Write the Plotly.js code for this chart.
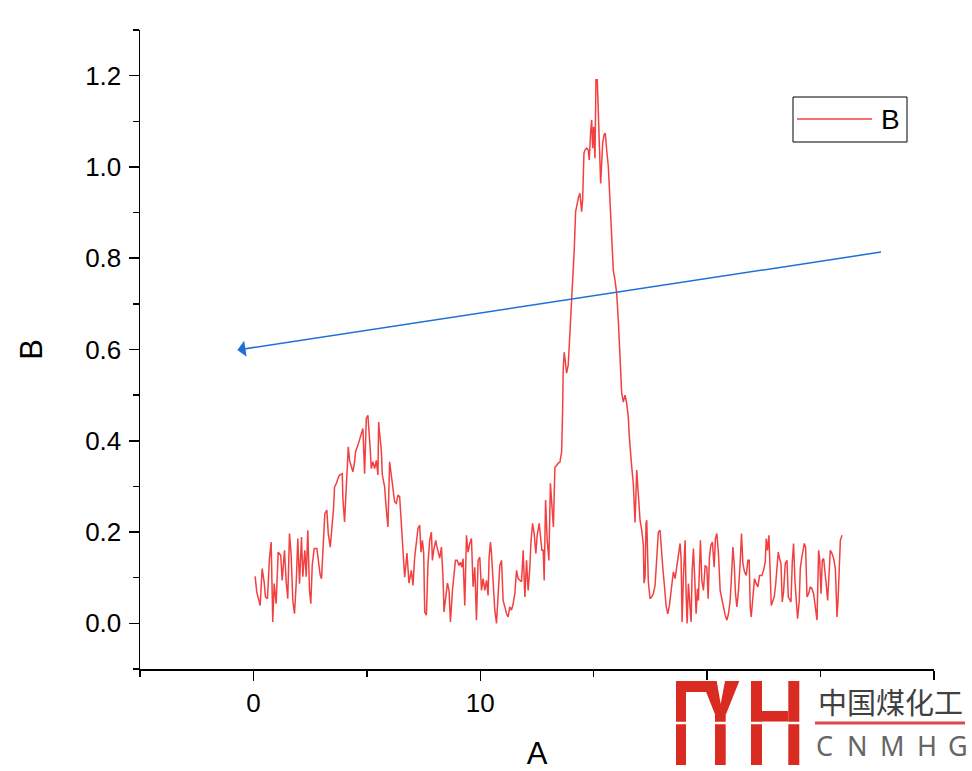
<!DOCTYPE html>
<html>
<head>
<meta charset="utf-8">
<script src="https://cdn.plot.ly/plotly-3.0.1.min.js"></script>
<style>
html,body{margin:0;padding:0;background:#fff;}
#chart{width:972px;height:771px;}
</style>
</head>
<body>
<div id="chart"></div>
<script>
// ---- data ----
const xA = [0.075,0.146,0.296,0.384,0.472,0.530,0.618,0.706,0.781,0.852,0.914,1.002,1.091,1.205,1.267,1.369,1.444,1.514,1.589,1.664,1.735,1.810,1.885,1.956,2.031,2.119,2.177,2.265,2.327,2.397,2.472,2.530,2.592,2.680,2.795,2.883,2.945,3.002,3.060,3.091,3.148,3.236,3.298,3.386,3.475,3.532,
3.576,3.651,3.722,3.797,3.916,3.943,4.018,4.062,4.119,4.181,4.238,4.313,4.384,4.459,4.503,4.605,4.680,4.755,4.826,4.901,4.976,5.046,5.091,5.152,5.196,5.267,5.342,5.417,5.488,5.519,5.563,5.638,5.682,5.784,5.859,5.929,6.004,6.079,6.150,6.225,6.300,6.371,6.446,6.521];
const yA = [0.103,0.069,0.039,0.120,0.091,0.058,0.054,0.142,0.178,0.003,0.087,0.043,0.156,0.149,0.094,0.160,0.091,0.054,0.197,0.149,0.050,0.021,0.087,0.186,0.087,0.189,0.102,0.160,0.102,0.204,0.072,0.043,0.127,0.164,0.164,0.127,0.105,0.098,0.156,0.208,0.241,0.248,0.197,0.167,0.215,0.252,
0.299,0.306,0.317,0.325,0.328,0.273,0.222,0.270,0.325,0.387,0.357,0.343,0.332,0.354,0.376,0.390,0.401,0.416,0.427,0.328,0.449,0.456,0.409,0.379,0.339,0.354,0.339,0.357,0.325,0.441,0.416,0.379,0.325,0.299,0.248,0.211,0.354,0.321,0.288,0.266,0.263,0.281,0.277,0.208];

const xB = [6.592,6.667,6.768,6.857,6.962,7.033,7.108,7.183,7.254,7.329,7.386,7.448,7.506,7.550,7.625,7.695,7.770,7.845,7.889,7.947,8.035,8.093,8.155,8.212,8.287,8.358,8.402,8.477,8.552,8.623,8.684,8.773,8.830,8.905,8.976,9.064,9.126,9.183,9.241,9.316,9.391,9.461,9.536,9.611,9.682,9.757,9.832,9.903,9.978,10.053,10.124,10.199,10.274,10.344,10.389,10.450,10.494,10.565,10.640,10.715,10.786,10.861,10.936,11.007,11.082,11.157,11.227,11.302,11.377,11.448,11.523,11.598,11.669,11.744,11.819,11.890,11.965,12.040,12.110,12.185,12.230,12.305,12.375,12.450,12.508,12.596,12.658,12.715,12.773,12.817,12.878,12.949,13.024,13.091,13.223];
const yB = [0.143,0.101,0.154,0.088,0.116,0.083,0.145,0.182,0.208,0.215,0.156,0.182,0.154,0.025,0.018,0.132,0.182,0.200,0.138,0.160,0.182,0.167,0.154,0.143,0.167,0.099,0.025,0.055,0.088,0.072,0.003,0.072,0.102,0.138,0.138,0.127,0.134,0.123,0.142,0.039,0.193,0.156,0.175,0.186,0.080,0.123,0.007,0.138,0.145,0.072,0.098,0.072,0.094,0.061,0.145,0.178,0.153,0.091,0.029,0.000,0.065,0.127,0.138,0.050,0.036,0.021,0.014,0.036,0.029,0.043,0.065,0.116,0.098,0.094,0.091,0.160,0.058,0.138,0.072,0.123,0.175,0.219,0.197,0.153,0.193,0.219,0.178,0.160,0.160,0.094,0.270,0.182,0.138,0.307,0.211];

const xC = [13.289,13.364,13.435,13.510,13.585,13.629,13.656,13.700,13.762,13.806,13.877,13.951,13.996,14.053,14.097,14.141,14.203,14.274,14.336,14.393,14.468,14.512,14.570,14.614,14.689,14.759,14.804,14.865,14.909,14.954,14.998,15.055,15.099,15.157,15.201,15.245,15.307,15.351,15.395,15.453,15.510,15.572,15.643,15.687,15.731,15.775,15.819,15.863,15.938,16.013,16.084,16.128,16.190,16.234,16.305,16.380,16.455,16.525,16.569,16.631,16.675,16.746,16.821,16.896,16.967,17.042,17.117,17.188,17.219,17.263,17.307,17.338,17.408,17.483,17.558,17.629,17.704,17.748,17.806,17.850,17.925];
const yC = [0.342,0.346,0.351,0.353,0.375,0.467,0.559,0.594,0.561,0.548,0.566,0.632,0.697,0.719,0.763,0.818,0.902,0.924,0.935,0.942,0.902,0.928,1.030,1.037,1.041,1.037,1.015,1.077,1.103,1.041,1.088,1.019,1.191,1.191,1.103,1.055,0.964,1.015,1.052,1.070,1.074,1.037,1.001,0.957,0.913,0.855,0.796,0.774,0.752,0.723,0.664,0.606,0.551,0.504,0.485,0.500,0.482,0.452,0.409,0.361,0.343,0.306,0.221,0.336,0.292,0.226,0.204,0.171,0.088,0.101,0.219,0.226,0.091,0.054,0.058,0.065,0.083,0.127,0.182,0.200,0.204];

const xD = [18.000,18.044,18.115,18.190,18.265,18.336,18.397,18.455,18.512,18.587,18.662,18.733,18.808,18.852,18.896,18.954,19.029,19.073,19.117,19.174,19.249,19.294,19.338,19.395,19.457,19.514,19.572,19.616,19.660,19.704,19.766,19.837,19.912,19.987,20.044,20.102,20.163,20.234,20.309,20.366,20.428,20.499,20.574,20.649,20.720,20.795,20.870,20.940,21.015,21.073,21.135,21.192,21.249,21.311,21.382,21.457,21.514,21.576,21.647,21.722,21.797,21.854,21.898,21.943,22.018,22.088,22.163,22.238,22.309,22.415,22.486,22.561,22.605,22.662,22.724,22.781,22.826,22.901,22.958,23.016,23.077,23.135,23.192,23.254,23.311,23.369,23.444,23.519,23.576,23.634,23.695,23.753,23.810,23.872,23.929,23.987,24.062,24.106,24.163,24.225,24.283,24.340,24.402,24.472,24.547,24.622,24.693,24.768,24.843,24.914,24.958,25.020,25.077,25.135,25.196,25.254,25.311,25.373,25.430,25.505,25.576,25.651,25.726,25.770,25.815,25.872,25.947];
const yD = [0.164,0.123,0.083,0.039,0.021,0.039,0.065,0.087,0.113,0.098,0.127,0.153,0.175,0.142,0.003,0.102,0.182,0.065,0.000,0.087,0.043,0.003,0.113,0.164,0.094,0.021,0.076,0.050,0.120,0.182,0.094,0.072,0.127,0.123,0.054,0.145,0.171,0.178,0.123,0.186,0.197,0.153,0.072,0.050,0.036,0.018,0.007,0.021,0.050,0.102,0.167,0.131,0.065,0.036,0.072,0.134,0.197,0.131,0.113,0.105,0.138,0.138,0.036,0.014,0.058,0.098,0.087,0.080,0.105,0.105,0.116,0.134,0.186,0.160,0.193,0.080,0.039,0.050,0.058,0.083,0.116,0.156,0.142,0.131,0.047,0.069,0.131,0.138,0.058,0.054,0.047,0.134,0.175,0.091,0.036,0.010,0.050,0.120,0.142,0.164,0.175,0.167,0.058,0.065,0.080,0.076,0.065,0.036,0.007,0.160,0.142,0.065,0.138,0.142,0.102,0.083,0.050,0.123,0.160,0.153,0.142,0.120,0.014,0.050,0.120,0.182,0.193];

const seriesName = 'B';
const xTickVals = [0, 10, 20, 30];
const xTickText = ['0', '10', '20', ''];
const yTickVals = [0, 0.2, 0.4, 0.6, 0.8, 1.0, 1.2];
const yTickText = ['0.0', '0.2', '0.4', '0.6', '0.8', '1.0', '1.2'];
const arrowTail = [27.73, 0.814];
const arrowHead = [-0.706, 0.599];

const xs = xA.concat(xB, xC, xD);
const ys = yA.concat(yB, yC, yD);

// ---- geometry helpers (pixel -> paper) ----
const L = 140, R = 38, T = 30, B = 102, W = 972, H = 771;
const PW = W - L - R, PH = H - T - B;
const px = v => (v - L) / PW;
const py = v => (H - B - v) / PH;

const red = 'rgb(242,64,64)';
const logoRed = '#d92b21';

function rectPx(x0, y0, x1, y1, color, extra) {
  return Object.assign({type: 'rect', xref: 'paper', yref: 'paper', layer: 'above',
    x0: px(x0), x1: px(x1), y0: py(y1), y1: py(y0),
    fillcolor: color, line: {width: 0}}, extra || {});
}
function polyPx(pts, color) {
  const d = pts.map((p, i) => (i ? 'L' : 'M') + px(p[0]).toFixed(5) + ',' + py(p[1]).toFixed(5)).join(' ') + ' Z';
  return {type: 'path', xref: 'paper', yref: 'paper', layer: 'above', path: d, fillcolor: color, line: {width: 0}};
}

const shapes = [
  // legend box
  {type: 'rect', xref: 'paper', yref: 'paper', x0: px(793), x1: px(907), y0: py(142), y1: py(97),
   line: {color: '#000', width: 1}, fillcolor: 'rgba(0,0,0,0)', layer: 'above'},
  {type: 'line', xref: 'paper', yref: 'paper', x0: px(797), x1: px(872), y0: py(119), y1: py(119),
   line: {color: red, width: 1.5}, layer: 'above'},
  // logo background
  rectPx(672, 680, 972, 771, '#ffffff'),
  // logo "MH"
  rectPx(676, 681, 710, 692, logoRed),
  rectPx(676, 681, 686, 765, logoRed),
  polyPx([[701.7, 681], [716.7, 681], [720.7, 704], [725, 681], [739.3, 681], [726, 714.3], [715, 714.3]], logoRed),
  rectPx(715, 711.7, 725.7, 765, logoRed),
  rectPx(751, 681, 762, 765, logoRed),
  rectPx(788.3, 681, 799.3, 765, logoRed),
  rectPx(762, 711, 788.3, 721.7, logoRed),
  rectPx(674, 721.7, 802, 724.3, '#ffffff'),
  // logo red underline
  {type: 'line', xref: 'paper', yref: 'paper', layer: 'above', x0: px(815), x1: px(965), y0: py(723), y1: py(723),
   line: {color: '#e04646', width: 3}}
];

const annotations = [
  {x: arrowHead[0], y: arrowHead[1], ax: arrowTail[0], ay: arrowTail[1], xref: 'x', yref: 'y', axref: 'x', ayref: 'y',
   showarrow: true, arrowhead: 1, arrowsize: 1.8, arrowwidth: 1.5, arrowcolor: '#1f70d6', text: ''},
  {x: px(890), y: py(119), xref: 'paper', yref: 'paper', text: seriesName, showarrow: false,
   font: {family: 'Liberation Sans, Arial, sans-serif', size: 28, color: '#000'}, xanchor: 'center', yanchor: 'middle'},
  {x: px(890), y: py(701), xref: 'paper', yref: 'paper', text: '中国煤化工', showarrow: false,
   font: {family: 'Noto Sans CJK SC', size: 29, color: '#404040'}, xanchor: 'center', yanchor: 'middle'}
];
const letters = ['C', 'N', 'M', 'H', 'G'];
const letterX = [824, 857, 892, 927, 958];
letters.forEach((c, i) => annotations.push({
  x: px(letterX[i]), y: py(745), xref: 'paper', yref: 'paper', text: c, showarrow: false,
  font: {family: 'Noto Sans, sans-serif', size: 27, color: '#666666'}, xanchor: 'center', yanchor: 'middle'}));

const trace = {x: xs, y: ys, type: 'scatter', mode: 'lines', name: seriesName,
  line: {color: red, width: 1.5}, showlegend: false};

const font = {family: 'Liberation Sans, Arial, sans-serif', size: 26, color: '#000'};
const titleFont = {family: font.family, size: 31, color: '#000'};
const layout = {
  width: W, height: H,
  margin: {l: L, r: R, t: T, b: B},
  paper_bgcolor: '#fff', plot_bgcolor: '#fff',
  showlegend: false,
  font: font,
  xaxis: {range: [-5, 30], showgrid: false, zeroline: false, showline: true, linecolor: '#000', linewidth: 1.5,
    ticks: 'outside', ticklen: 10, tickwidth: 1.5, tickcolor: '#000', tickvals: xTickVals, ticktext: xTickText,
    minor: {dtick: 5, tick0: 0, ticks: 'outside', ticklen: 6, tickwidth: 1.5, tickcolor: '#000', showgrid: false},
    tickfont: font, title: {text: 'A', font: titleFont, standoff: 30}},
  yaxis: {range: [-0.1, 1.3], showgrid: false, zeroline: false, showline: true, linecolor: '#000', linewidth: 1.5,
    ticks: 'outside', ticklen: 10, tickwidth: 1.5, tickcolor: '#000', tickvals: yTickVals, ticktext: yTickText,
    ticklabelstandoff: 2,
    minor: {dtick: 0.1, tick0: 0, ticks: 'outside', ticklen: 6, tickwidth: 1.5, tickcolor: '#000', showgrid: false},
    tickfont: font, title: {text: 'B', font: titleFont, standoff: 33}},
  shapes: shapes,
  annotations: annotations
};

Plotly.newPlot('chart', [trace], layout, {displayModeBar: false, staticPlot: true});
</script>
</body>
</html>
